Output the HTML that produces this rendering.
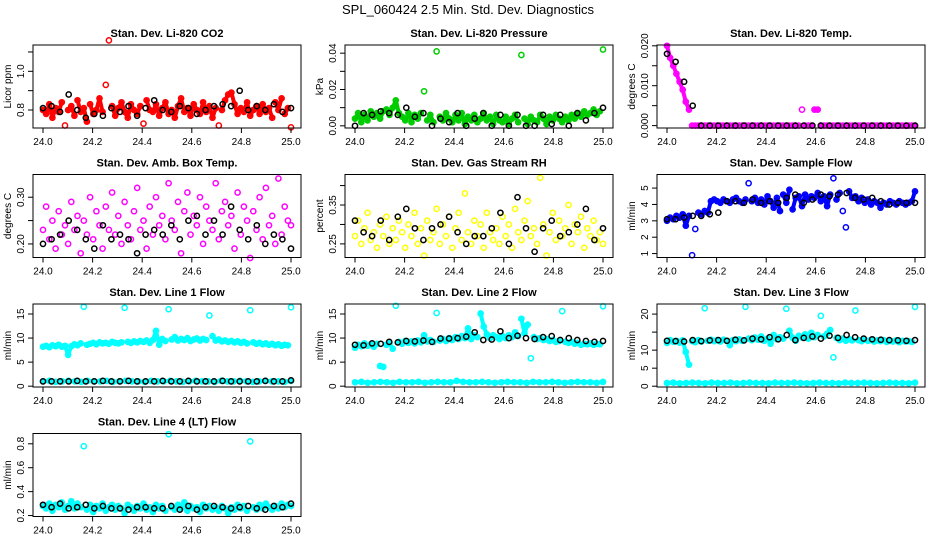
<!DOCTYPE html>
<html><head><meta charset="utf-8"><style>
html,body{margin:0;padding:0;background:#fff;}
svg{display:block;font-family:"Liberation Sans",sans-serif;}
</style></head><body>
<svg id="chart" width="936" height="540" viewBox="0 0 936 540" xmlns="http://www.w3.org/2000/svg">
<text x="468" y="14" text-anchor="middle" font-size="13">SPL_060424  2.5 Min. Std. Dev. Diagnostics</text>
</svg>
<script>
const xTicks = [24.0, 24.2, 24.4, 24.6, 24.8, 25.0];
const xTickLabels = ["24.0", "24.2", "24.4", "24.6", "24.8", "25.0"];

const co2Red = [0.80,0.78,0.83,0.76,0.81,0.79,0.84,0.72,0.80,0.82,0.77,0.85,0.79,0.81,0.74,0.83,0.78,0.80,0.86,0.79,0.93,1.16,0.82,0.77,0.81,0.84,0.79,0.76,0.83,0.80,0.78,0.82,0.73,0.85,0.80,0.79,0.83,0.77,0.81,0.84,0.78,0.80,0.76,0.82,0.86,0.79,0.81,0.77,0.83,0.80,0.78,0.84,0.79,0.82,0.76,0.81,0.72,0.80,0.85,0.88,0.89,0.83,0.78,0.81,0.79,0.84,0.77,0.80,0.82,0.78,0.83,0.79,0.81,0.76,0.84,0.80,0.86,0.78,0.81,0.71];
const co2Black = [0.81,0.82,0.79,0.88,0.80,0.76,0.78,0.77,0.81,0.79,0.82,0.77,0.81,0.85,0.80,0.79,0.82,0.81,0.78,0.80,0.82,0.83,0.82,0.90,0.80,0.82,0.80,0.83,0.79,0.81];

const presGreen = [0.004,0.007,0.002,0.006,0.003,0.008,0.005,0.007,0.004,0.008,0.009,0.006,0.010,0.014,0.007,0.005,0.003,0.007,0.002,0.006,0.004,0.007,0.019,0.003,0.006,0.002,0.041,0.005,0.003,0.007,0.004,0.002,0.006,0.003,0.007,0.001,0.005,0.003,0.006,0.002,0.004,0.007,0.003,0.005,0.001,0.006,0.003,0.002,0.005,0.001,0.004,0.006,0.002,0.039,0.004,0.001,0.005,0.003,0.002,0.006,0.004,0.001,0.005,0.003,0.006,0.004,0.002,0.005,0.003,0.006,0.004,0.007,0.005,0.008,0.006,0.007,0.009,0.006,0.008,0.042];
const presBlack = [0.000,0.007,0.006,0.008,0.007,0.006,0.010,0.005,0.007,0.000,0.004,0.002,0.007,0.000,0.004,0.007,0.000,0.006,0.000,0.006,0.000,0.000,0.006,0.001,0.006,0.000,0.007,0.003,0.007,0.010];

const tempMag = [0.020,0.017,0.015,0.013,0.011,0.009,0.006,0.004,0.000,0,0,0,0,0,0,0,0,0,0,0,0,0,0,0,0,0,0,0,0,0,0,0,0,0,0,0,0,0,0,0,0,0,0,0.004,0,0,0,0.004,0.004,0,0,0,0,0,0,0,0,0,0,0,0,0,0,0,0,0,0,0,0,0,0,0,0,0,0,0,0,0,0,0];
const tempBlack = [0.018,0.016,0.011,0.005,0,0,0,0,0,0,0,0,0,0,0,0,0,0,0,0,0,0,0,0,0,0,0,0,0,0];

const ambMag = [0.23,0.28,0.21,0.25,0.19,0.27,0.22,0.24,0.20,0.29,0.23,0.26,0.18,0.25,0.22,0.30,0.21,0.27,0.24,0.19,0.28,0.23,0.31,0.22,0.26,0.20,0.29,0.24,0.21,0.27,0.32,0.23,0.25,0.19,0.28,0.22,0.30,0.24,0.26,0.21,0.33,0.25,0.23,0.29,0.18,0.27,0.31,0.22,0.26,0.24,0.30,0.20,0.28,0.25,0.23,0.33,0.21,0.27,0.29,0.24,0.26,0.19,0.31,0.22,0.28,0.25,0.17,0.27,0.23,0.30,0.21,0.32,0.24,0.26,0.20,0.34,0.22,0.28,0.25,0.24];
const ambBlack = [0.20,0.21,0.22,0.25,0.23,0.21,0.19,0.24,0.21,0.22,0.21,0.18,0.22,0.23,0.22,0.24,0.21,0.25,0.26,0.22,0.25,0.22,0.28,0.23,0.21,0.24,0.20,0.22,0.21,0.19];

const rhYellow = [0.27,0.31,0.25,0.29,0.33,0.26,0.28,0.24,0.30,0.27,0.32,0.25,0.29,0.26,0.31,0.28,0.24,0.30,0.27,0.33,0.25,0.29,0.22,0.31,0.26,0.28,0.34,0.25,0.30,0.27,0.32,0.24,0.29,0.33,0.26,0.38,0.28,0.25,0.31,0.27,0.30,0.24,0.33,0.28,0.26,0.29,0.25,0.32,0.27,0.30,0.24,0.34,0.28,0.26,0.31,0.36,0.27,0.29,0.25,0.42,0.30,0.22,0.28,0.33,0.26,0.31,0.27,0.29,0.35,0.25,0.30,0.28,0.32,0.24,0.29,0.27,0.31,0.26,0.28,0.25];
const rhBlack = [0.31,0.28,0.27,0.31,0.26,0.32,0.34,0.29,0.26,0.29,0.30,0.32,0.28,0.25,0.27,0.27,0.29,0.33,0.25,0.37,0.29,0.23,0.29,0.31,0.27,0.28,0.30,0.34,0.26,0.29];

const flowBlue = [3.0,3.2,3.1,3.3,3.2,3.4,2.7,3.3,0.9,2.5,3.5,3.4,3.6,3.5,4.2,4.3,4.2,4.1,4.3,4.2,4.1,4.3,4.4,4.2,4.1,4.3,5.3,4.2,4.4,4.1,4.3,4.0,4.5,4.2,3.8,4.4,3.6,4.6,4.1,4.9,3.7,4.4,4.5,3.9,4.6,4.3,4.5,4.4,4.7,4.2,4.5,3.9,4.6,5.6,4.3,4.7,3.6,2.6,4.8,4.4,4.5,4.2,4.4,4.1,4.3,4.0,4.2,4.1,3.8,4.1,4.0,4.2,4.1,4.0,4.2,4.1,4.0,4.1,4.2,4.8];
const flowBlack = [3.1,3.1,3.2,3.3,3.3,3.4,3.5,4.2,4.2,4.1,4.3,4.1,4.2,4.1,4.4,4.6,4.1,4.3,4.6,4.5,4.6,4.7,4.4,4.3,4.4,4.2,4.0,4.1,4.1,4.1];

const l1Upper = [8.2,8.4,8.1,8.5,8.3,8.6,8.2,8.4,6.5,8.3,8.7,8.5,8.9,16.5,8.6,8.8,9.0,8.7,9.1,8.9,9.0,8.8,9.2,9.0,8.9,9.1,16.3,9.2,9.0,9.3,9.1,9.4,9.2,9.5,9.0,9.6,11.5,8.6,9.8,9.4,16.0,9.7,10.2,9.5,9.8,9.6,10.0,9.4,9.7,9.9,9.5,9.8,9.6,14.7,10.4,9.5,9.7,9.3,9.5,9.2,9.4,9.1,9.3,9.0,9.2,8.9,15.8,9.1,8.8,9.0,8.7,8.9,8.6,8.8,8.5,8.7,8.4,8.6,8.5,16.4];
const l1Lower = [1.0,1.1,0.9,1.0,1.1,1.0,0.9,1.1,1.0,1.0,1.1,0.9,1.0,1.1,1.0,1.0,0.9,1.1,1.0,1.0,1.1,1.0,0.9,1.0,1.1,1.0,1.0,0.9,1.1,1.0,1.0,1.1,1.0,0.9,1.0,1.1,1.0,1.0,0.9,1.1];
const l1Black = [1.0,1.0,1.0,1.0,1.1,1.0,1.0,1.1,1.0,1.0,1.1,1.0,1.0,1.0,1.1,1.0,1.0,1.1,1.0,1.0,1.0,1.1,1.0,1.0,1.0,1.0,1.1,1.0,1.0,1.2];

const l2Upper = [8.0,8.6,8.3,8.9,8.4,8.7,8.2,8.8,4.2,4.0,8.6,9.0,7.8,16.7,9.2,8.8,9.4,9.0,9.3,8.9,9.5,9.1,10.6,9.3,9.6,9.2,15.2,9.5,9.8,9.4,10.0,9.6,10.2,9.8,10.4,10.0,12.0,9.8,10.6,10.2,15.1,12.4,10.8,10.0,10.6,10.2,9.8,10.4,10.0,10.6,10.2,11.2,10.4,14.0,11.0,12.8,5.8,10.2,9.8,10.0,9.6,9.8,9.4,9.6,9.2,9.4,15.6,9.2,9.0,9.2,8.8,9.0,8.6,8.8,8.7,8.9,8.6,8.8,8.7,16.6];
const l2Lower = [0.8,0.9,0.7,0.8,0.9,0.8,0.7,0.9,0.8,0.8,0.9,0.7,0.8,0.9,0.8,0.8,1.1,0.9,0.8,0.8,0.9,0.8,0.7,0.8,0.9,0.8,0.8,0.7,0.9,0.8,0.8,0.9,0.8,0.7,0.8,0.9,0.8,0.8,0.7,0.9];
const l2Black = [8.6,8.5,8.9,8.8,9.2,9.1,9.4,9.3,9.5,9.2,9.9,9.9,10.0,10.3,11.2,9.6,9.7,11.4,10.0,10.5,10.0,9.8,10.2,10.4,9.6,10.0,9.6,9.4,9.2,9.4];

const l3Upper = [12.0,12.8,12.3,12.6,12.1,12.7,9.5,6.0,12.5,12.2,12.8,12.4,21.6,12.6,12.9,12.5,12.8,12.4,12.9,12.6,11.4,12.8,12.5,13.0,12.6,22.0,13.2,12.8,13.5,12.9,13.8,12.6,13.2,11.8,14.2,13.0,13.6,13.2,21.5,15.4,13.4,12.6,14.0,13.5,14.4,13.2,14.8,13.6,14.2,19.5,13.8,14.6,15.6,8.0,13.4,12.8,13.2,12.6,13.0,12.7,21.0,12.8,12.5,12.9,12.6,12.8,12.4,12.7,12.5,12.8,12.3,12.6,12.4,12.7,12.2,12.6,12.4,12.5,12.3,22.0];
const l3Lower = [0.9,1.0,0.8,0.9,1.0,0.9,0.8,1.0,0.9,0.9,1.0,0.8,0.9,1.0,0.9,0.9,0.8,1.0,0.9,0.9,1.0,0.9,0.8,0.9,1.0,0.9,0.9,0.8,1.0,0.9,0.9,1.0,0.9,0.8,0.9,1.0,0.9,0.9,0.8,1.0];
const l3Black = [12.6,12.5,12.4,12.8,12.5,12.7,12.8,12.6,12.9,12.7,13.2,13.0,13.6,13.0,14.2,12.8,13.4,13.8,13.2,14.0,13.4,14.2,13.6,13.2,13.0,12.9,12.8,12.7,12.6,12.8];

const l4Cyan = [0.28,0.26,0.30,0.24,0.29,0.27,0.31,0.25,0.28,0.32,0.26,0.30,0.27,0.78,0.25,0.29,0.23,0.28,0.26,0.30,0.24,0.27,0.29,0.25,0.28,0.26,0.22,0.29,0.27,0.24,0.28,0.26,0.30,0.25,0.27,0.23,0.29,0.26,0.28,0.24,0.88,0.27,0.25,0.29,0.26,0.31,0.24,0.28,0.26,0.27,0.23,0.29,0.26,0.28,0.25,0.27,0.24,0.28,0.26,0.22,0.27,0.25,0.29,0.26,0.28,0.24,0.82,0.27,0.25,0.29,0.26,0.30,0.27,0.25,0.28,0.26,0.30,0.27,0.29,0.28];
const l4Black = [0.29,0.27,0.30,0.26,0.27,0.29,0.26,0.28,0.26,0.26,0.25,0.27,0.27,0.26,0.26,0.28,0.25,0.28,0.25,0.27,0.28,0.27,0.26,0.27,0.28,0.26,0.25,0.28,0.27,0.30];

const NS = "http://www.w3.org/2000/svg";
const svg = document.getElementById("chart");
function mk(tag, attrs, parent) {
  const e = document.createElementNS(NS, tag);
  for (const k in attrs) e.setAttribute(k, attrs[k]);
  (parent || svg).appendChild(e);
  return e;
}

const panels = [
  {name:"co2", band:true, title:"Stan. Dev. Li-820 CO2", ylab:"Licor ppm", col:0,row:0, y0:0.707,y1:1.136, ticks:[0.8,0.9,1.0,1.1], tl:["0.8","","1.0",""], series:[[co2Red,"#ff0000"],[co2Black,"#000"]]},
  {name:"pressure", band:true, title:"Stan. Dev. Li-820 Pressure", ylab:"kPa", col:1,row:0, y0:-0.0012,y1:0.0445, ticks:[0,0.01,0.02,0.03,0.04], tl:["0.00","","0.02","","0.04"], series:[[presGreen,"#00cd00"],[presBlack,"#000"]]},
  {name:"temp", band:true, title:"Stan. Dev. Li-820 Temp.", ylab:"degrees C", col:2,row:0, y0:-0.0006,y1:0.0202, ticks:[0,0.005,0.01,0.015,0.02], tl:["0.000","","0.010","","0.020"], series:[[tempMag,"#ff00ff"],[tempBlack,"#000"]]},
  {name:"amb-box-temp", band:false, title:"Stan. Dev. Amb. Box Temp.", ylab:"degrees C", col:0,row:1, y0:0.171,y1:0.3486, ticks:[0.2,0.25,0.3], tl:["0.20","","0.30"], series:[[ambMag,"#ff00ff"],[ambBlack,"#000"]]},
  {name:"gas-stream-rh", band:false, title:"Stan. Dev. Gas Stream RH", ylab:"percent", col:1,row:1, y0:0.215,y1:0.4285, ticks:[0.25,0.3,0.35,0.4], tl:["0.25","","0.35",""], series:[[rhYellow,"#ffff00"],[rhBlack,"#000"]]},
  {name:"sample-flow", band:true, title:"Stan. Dev. Sample Flow", ylab:"ml/min", col:2,row:1, y0:0.76,y1:5.83, ticks:[1,2,3,4,5], tl:["1","2","3","4","5"], series:[[flowBlue,"#0000ff"],[flowBlack,"#000"]]},
  {name:"line1-flow", band:true, title:"Stan. Dev. Line 1 Flow", ylab:"ml/min", col:0,row:2, y0:-0.17,y1:17.08, ticks:[0,5,10,15], tl:["0","5","10","15"], series:[[l1Upper,"#00ffff"],[l1Lower,"#00ffff"],[l1Black,"#000"]]},
  {name:"line2-flow", band:true, title:"Stan. Dev. Line 2 Flow", ylab:"ml/min", col:1,row:2, y0:-0.17,y1:17.08, ticks:[0,5,10,15], tl:["0","5","10","15"], series:[[l2Upper,"#00ffff"],[l2Lower,"#00ffff"],[l2Black,"#000"]]},
  {name:"line3-flow", band:true, title:"Stan. Dev. Line 3 Flow", ylab:"ml/min", col:2,row:2, y0:-0.22,y1:22.8, ticks:[0,5,10,15,20], tl:["0","5","10","","20"], series:[[l3Upper,"#00ffff"],[l3Lower,"#00ffff"],[l3Black,"#000"]]},
  {name:"line4-flow", band:true, title:"Stan. Dev. Line 4 (LT) Flow", ylab:"ml/min", col:0,row:3, y0:0.192,y1:0.886, ticks:[0.2,0.4,0.6,0.8], tl:["0.2","0.4","0.6","0.8"], series:[[l4Cyan,"#00ffff"],[l4Black,"#000"]]}
];
const rowTops = [45, 174.5, 304, 433.5];
const boxW = 268, boxH = 83;

panels.forEach(p => {
  const left = 33 + 312 * p.col, top = rowTops[p.row], bottom = top + boxH;
  const g = mk("g", {});
  
  
  const xs = v => left + 10 + (v - 24) * 248;
  const ys = v => bottom - (v - p.y0) / (p.y1 - p.y0) * boxH;

  const t = mk("text", {x: left + boxW / 2, y: top - 8, "text-anchor": "middle", "font-size": "11", "font-weight": "bold"}, g);
  t.textContent = p.title;
  
  

  const pts = mk("g", {fill: "none", "stroke-width": "1.5"}, g);
  
  
  p.series.forEach(([arr, col]) => {
    const n = arr.length;
    if (p.band && col !== "#000") {
      let d = "";
      arr.forEach((v, i) => {
        const X = xs(24 + i / (n - 1)).toFixed(1), Y = ys(v).toFixed(1);
        const near = i > 0 && Math.abs(v - arr[i - 1]) < 0.18 * (p.y1 - p.y0);
        d += (near ? "L" : "M") + X + " " + Y + " ";
      });
      const band = mk("path", {d: d, stroke: col, "stroke-width": "4", "stroke-linejoin": "round", "stroke-linecap": "round", fill: "none"}, pts);
      
      
    }
    arr.forEach((v, i) => {
      const c = mk("circle", {cx: xs(24 + i / (n - 1)).toFixed(1), cy: ys(v).toFixed(1), r: "2.6", stroke: col}, pts);
      
      
    });
  });

  const box = mk("rect", {x: left, y: top, width: boxW, height: boxH, fill: "none", stroke: "#000", "stroke-width": "1"}, g);
  
  

  const xa = mk("g", {}, g);
  
  
  xTicks.forEach((v, i) => {
    mk("line", {x1: xs(v), x2: xs(v), y1: bottom, y2: bottom + 5, stroke: "#000"}, xa);
    const tx = mk("text", {x: xs(v), y: bottom + 17, "text-anchor": "middle", "font-size": "10"}, xa);
    tx.textContent = xTickLabels[i];
  });

  const ya = mk("g", {}, g);
  
  
  p.ticks.forEach((v, i) => {
    const yy = ys(v);
    mk("line", {x1: left - 5, x2: left, y1: yy, y2: yy, stroke: "#000"}, ya);
    if (p.tl[i]) {
      const tx = mk("text", {x: 0, y: 0, "text-anchor": "middle", "font-size": "10", transform: `translate(${left - 9},${yy}) rotate(-90)`}, ya);
      tx.textContent = p.tl[i];
    }
  });
  const yl = mk("text", {x: 0, y: 0, "text-anchor": "middle", "font-size": "10", transform: `translate(${left - 22},${top + boxH / 2}) rotate(-90)`}, g);
  yl.textContent = p.ylab;
  
  
});
</script>
</body></html>
